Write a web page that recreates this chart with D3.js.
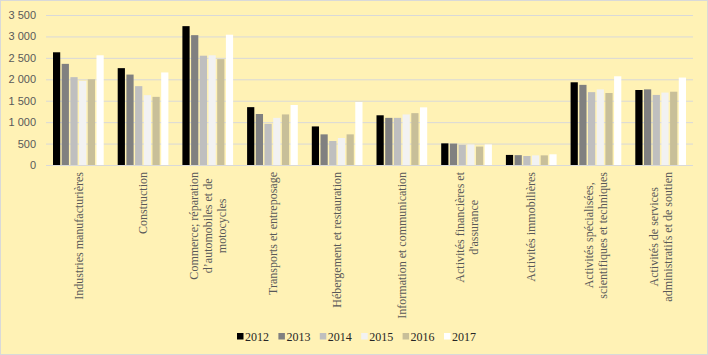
<!DOCTYPE html>
<html><head><meta charset="utf-8">
<script src="https://cdn.jsdelivr.net/npm/d3@7"></script>
<style>body{margin:0;background:#fff;}svg{display:block;}</style>
</head><body><svg id="c" width="708" height="355"></svg>
<script>
const categories = [
  ["Industries manufacturières"],
  ["Construction"],
  ["Commerce; réparation","d’automobiles et de","motocycles"],
  ["Transports et entreposage"],
  ["Hébergement et restauration"],
  ["Information et communication"],
  ["Activités financières et","d'assurance"],
  ["Activités immobilières"],
  ["Activités spécialisées,","scientifiques et techniques"],
  ["Activités de services","administratifs et de soutien"]
];
const years = ["2012","2013","2014","2015","2016","2017"];
const colors = ["#000000","#808080","#bfbfbf","#f2f2f2","#c8bf99","#ffffff"];
const v2012 = [2630,2260,3240,1350,900,1160,505,235,1930,1750];
const v2013 = [2360,2110,3030,1190,715,1100,500,230,1870,1765];
const v2014 = [2050,1840,2550,960,560,1100,470,210,1700,1635];
const v2015 = [1960,1630,2560,1100,630,1180,480,225,1765,1690];
const v2016 = [2000,1590,2470,1180,715,1210,430,225,1680,1710];
const v2017 = [2560,2160,3040,1400,1470,1345,480,250,2070,2040];
const series = [v2012,v2013,v2014,v2015,v2016,v2017];
const yTicks = [0,500,1000,1500,2000,2500,3000,3500];

(function(){
const svg = d3.select("#c");
svg.append("rect").attr("x",0.5).attr("y",0.5).attr("width",707).attr("height",354)
  .attr("fill","#fff2b5").attr("stroke","#d9d9d9").attr("stroke-width",1);

const pL=46, pR=693, pT=15, pB=165;
const x0 = d3.scaleBand().domain(d3.range(categories.length)).range([pL,pR]).padding(0);
const x1 = d3.scaleBand().domain(years).range([7, x0.bandwidth()-7]).paddingInner(0.17).paddingOuter(0);
const y = d3.scaleLinear().domain([0,3500]).range([pB,pT]);
const fmt = d => d3.format(",")(d).replace(/,/g," ");

svg.append("g").selectAll("line").data(yTicks).join("line")
  .attr("x1",pL).attr("x2",pR).attr("y1",d=>y(d)+0.5).attr("y2",d=>y(d)+0.5)
  .attr("stroke","#d9d9d9").attr("stroke-width",1);

const yAxis = d3.axisLeft(y).tickValues(yTicks).tickFormat(fmt).tickSize(0).tickPadding(0);
const ya = svg.append("g").attr("transform",`translate(36,0)`).call(yAxis);
ya.select(".domain").remove();
ya.selectAll("text").attr("font-family","Liberation Sans, Arial, sans-serif").attr("font-size",11).attr("fill","#595959");

const groups = svg.append("g").selectAll("g").data(categories.map((c,i)=>i)).join("g")
  .attr("transform",i=>`translate(${x0(i)},0)`);
groups.selectAll("rect").data(i=>years.map((yr,k)=>({yr,k,v:series[k][i]}))).join("rect")
  .attr("x",d=>x1(d.yr)).attr("width",x1.bandwidth())
  .attr("y",d=>y(d.v)).attr("height",d=>y(0)-y(d.v))
  .attr("fill",d=>colors[d.k]);

const lab = svg.append("g");
categories.forEach((lines,i)=>{
  const cx = x0(i)+x0.bandwidth()/2;
  const g = lab.append("g").attr("transform",`translate(${cx},172) rotate(-90)`);
  const n = lines.length;
  const ts = lines.map((t,j)=>g.append("text").text(t)
    .attr("font-family","Liberation Serif, Times New Roman, serif").attr("font-size",12)
    .attr("fill","#595959").attr("y",(j-(n-1)/2)*14).attr("dy","0.35em"));
  const lens = ts.map(t=>t.node().getComputedTextLength());
  const maxL = d3.max(lens);
  ts.forEach(t=>t.attr("text-anchor","middle").attr("x",-maxL/2));
});

const leg = svg.append("g");
years.forEach((yr,k)=>{
  const lx = 237 + k*41.4;
  leg.append("rect").attr("x",lx).attr("y",333).attr("width",6.5).attr("height",6.5).attr("fill",colors[k]);
  leg.append("text").attr("x",lx+8).attr("y",340.5).text(yr)
    .attr("font-family","Liberation Serif, Times New Roman, serif").attr("font-size",12).attr("fill","#262626");
});
})();
</script></body></html>
